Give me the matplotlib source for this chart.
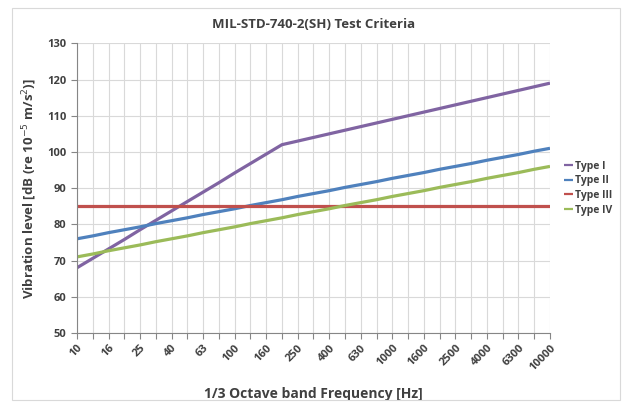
import matplotlib.pyplot as plt
from matplotlib.patches import Rectangle

# 1/3 octave band centre frequencies [Hz]
bands = ["10", "12.5", "16", "20", "25", "31.5", "40", "50", "63", "80",
         "100", "125", "160", "200", "250", "315", "400", "500", "630", "800",
         "1000", "1250", "1600", "2000", "2500", "3150", "4000", "5000", "6300",
         "8000", "10000"]

type_1 = [68, 70.6, 73.2, 75.8, 78.5, 81.1, 83.7, 86.3, 88.9, 91.5, 94.2,
          96.8, 99.4, 102, 103, 104, 105, 106, 107, 108, 109, 110, 111, 112,
          113, 114, 115, 116, 117, 118, 119]
type_2 = [76, 76.8, 77.7, 78.5, 79.3, 80.2, 81, 81.8, 82.7, 83.5, 84.3,
          85.2, 86, 86.8, 87.7, 88.5, 89.3, 90.2, 91, 91.8, 92.7, 93.5, 94.3,
          95.2, 96, 96.8, 97.7, 98.5, 99.3, 100.2, 101]
type_3 = [85] * 31
type_4 = [71, 71.8, 72.7, 73.5, 74.3, 75.2, 76, 76.8, 77.7, 78.5, 79.3,
          80.2, 81, 81.8, 82.7, 83.5, 84.3, 85.2, 86, 86.8, 87.7, 88.5, 89.3,
          90.2, 91, 91.8, 92.7, 93.5, 94.3, 95.2, 96]

series = {
    "Type I": (type_1, "#8064A2"),
    "Type II": (type_2, "#4F81BD"),
    "Type III": (type_3, "#C0504D"),
    "Type IV": (type_4, "#9BBB59"),
}

plt.rcParams["font.family"] = ["Open Sans", "DejaVu Sans"]
text_color = "#404040"

fig = plt.figure(figsize=(6.24, 4.05), dpi=100)
fig.patches.append(Rectangle((0.019, 0.012), 0.975, 0.968, transform=fig.transFigure,
                             fill=False, edgecolor="#D9D9D9", linewidth=0.8))
ax = fig.add_axes([0.1234, 0.178, 0.758, 0.715])

x = list(range(len(bands)))
for name, (vals, color) in series.items():
    ax.plot(x, vals, color=color, linewidth=2.3, label=name, solid_capstyle="butt")

ax.set_xlim(0, len(bands) - 1)
ax.set_ylim(50, 130)
ax.set_yticks(range(50, 131, 10))
ax.set_xticks(x)
ax.set_xticklabels([b if i % 2 == 0 else "" for i, b in enumerate(bands)],
                   rotation=45, ha="right", va="top", rotation_mode="anchor")
ax.tick_params(axis="x", length=4, color="#868686", labelsize=8,
               labelcolor=text_color, pad=3)
ax.tick_params(axis="y", length=4, color="#868686", labelsize=8,
               labelcolor=text_color)
for lab in ax.get_xticklabels() + ax.get_yticklabels():
    lab.set_fontweight("bold")

ax.grid(True, color="#D9D9D9", linewidth=0.8)
ax.set_axisbelow(True)
for side in ["top", "right"]:
    ax.spines[side].set_visible(False)
ax.spines["left"].set_color("#868686")
ax.spines["bottom"].set_color("#868686")

ax.set_title("MIL-STD-740-2(SH) Test Criteria", fontsize=9.5, fontweight="bold",
             color=text_color, pad=11)
ax.set_ylabel("Vibration level [dB (re 10$^{-5}$ m/s$^{2}$)]", fontsize=9.5,
              fontweight="bold", color=text_color, labelpad=6)
ax.set_xlabel("1/3 Octave band Frequency [Hz]", fontsize=10, fontweight="bold",
              color=text_color, labelpad=10)

leg = ax.legend(loc="center left", bbox_to_anchor=(1.01, 0.5), frameon=False,
                handlelength=0.9, handletextpad=0.15, labelspacing=0.35,
                prop={"size": 7.5, "weight": "bold"})
for t in leg.get_texts():
    t.set_color(text_color)
for line in leg.get_lines():
    line.set_linewidth(1.6)

fig.savefig("out.png", dpi=100)
